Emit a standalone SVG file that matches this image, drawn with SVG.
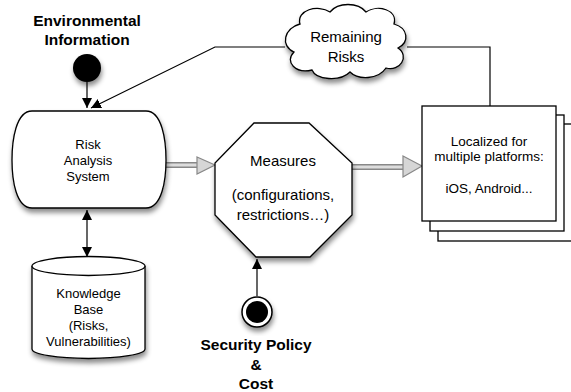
<svg xmlns="http://www.w3.org/2000/svg" width="571" height="392" viewBox="0 0 571 392">
<defs>
<filter id="sh" x="-20%" y="-20%" width="150%" height="150%">
<feDropShadow dx="1" dy="4" stdDeviation="2.5" flood-color="#000" flood-opacity="0.45"/>
</filter>
<marker id="ah" viewBox="0 0 10 10" refX="10" refY="5" markerWidth="10" markerHeight="10" markerUnits="userSpaceOnUse" orient="auto-start-reverse">
<path d="M0,0 L10,5 L0,10 Z" fill="#000"/>
</marker>
</defs>
<style>
.n{fill:#fff;stroke:#000;stroke-width:1.3}
.t{font-family:"Liberation Sans",Arial,sans-serif;font-size:13px;fill:#000;text-anchor:middle}
.b{font-family:"Liberation Sans",Arial,sans-serif;font-size:15.5px;font-weight:bold;fill:#000;text-anchor:middle}
.c{fill:none;stroke:#000;stroke-width:1.2}
.sh{fill:none;stroke:#888;stroke-width:6}
.si{fill:none;stroke:#ddd;stroke-width:3}
.hd{fill:#d6d6d6;stroke:#888;stroke-width:1.2}
</style>
<rect width="571" height="392" fill="#fff"/>
<g id="connectors">
<path class="c" d="M87,82 V108" marker-end="url(#ah)"/>
<path class="c" d="M285,47 H215 L91,108" marker-end="url(#ah)"/>
<path class="c" d="M490,106 V47 H407"/>
<path class="c" d="M87,210 V257" marker-start="url(#ah)" marker-end="url(#ah)"/>
<path class="c" d="M257,296 V259" marker-end="url(#ah)"/>
<path class="sh" d="M166,165 H198"/>
<path class="si" d="M166,165 H199"/>
<path class="hd" d="M197,157 L215,165 L197,174 Z"/>
<path class="sh" d="M352,167 H404"/>
<path class="si" d="M352,167 H405"/>
<path class="hd" d="M403,156 L422,166 L403,177 Z"/>
</g>
<g id="env">
<text class="b" x="87" y="26">Environmental</text>
<text class="b" x="87" y="45">Information</text>
<circle cx="87" cy="68" r="14" fill="#000" filter="url(#sh)"/>
</g>
<g id="cloud">
<path class="n" filter="url(#sh)" d="M300,24 C296,10 318,4 330,12 C338,2 358,2 366,12 C378,4 398,10 394,24 C408,28 410,42 398,48 C410,56 400,72 386,68 C378,80 358,80 350,72 C340,82 316,80 312,70 C296,74 284,62 294,52 C280,46 284,28 300,24 Z"/>
<text class="t" style="font-size:15px" x="346" y="42">Remaining</text>
<text class="t" style="font-size:15px" x="346" y="62">Risks</text>
</g>
<g id="ras">
<path class="n" filter="url(#sh)" d="M32,111 L146,111 C162,111 166,140 166,160 C166,180 162,208 146,208 L32,208 C16,208 12,180 12,160 C12,140 16,111 32,111 Z"/>
<text class="t" x="88" y="149">Risk</text>
<text class="t" x="88" y="165">Analysis</text>
<text class="t" x="88" y="181">System</text>
</g>
<g id="kb">
<path class="n" filter="url(#sh)" d="M32,266 V349 A56.5,9.5 0 0 0 145,349 V266 A56.5,9.5 0 0 0 32,266 Z"/>
<path class="n" d="M32,266 A56.5,9.5 0 0 0 145,266"/>
<text class="t" x="88.5" y="298">Knowledge</text>
<text class="t" x="88.5" y="314">Base</text>
<text class="t" x="88.5" y="330">(Risks,</text>
<text class="t" x="88.5" y="346">Vulnerabilities)</text>
</g>
<g id="measures">
<path class="n" filter="url(#sh)" d="M254,123 H309 L352,163 V215 L310,257 H256 L215,215 V163 Z"/>
<text class="t" style="font-size:15px" x="283" y="166">Measures</text>
<text class="t" style="font-size:15px" x="283" y="200">(configurations,</text>
<text class="t" style="font-size:15px" x="283" y="220">restrictions…)</text>
</g>
<g id="localized">
<rect class="n" x="438" y="124" width="140" height="117"/>
<rect class="n" x="430" y="115" width="134" height="116"/>
<rect class="n" x="422" y="106" width="134" height="115"/>
<text class="t" style="font-size:13.5px" x="489" y="146">Localized for</text>
<text class="t" style="font-size:13.5px" x="489" y="161">multiple platforms:</text>
<text class="t" style="font-size:13.5px" x="489" y="193">iOS, Android...</text>
</g>
<g id="security">
<circle cx="257" cy="312" r="15" fill="#fff" stroke="#000" stroke-width="1.5" filter="url(#sh)"/>
<circle cx="257" cy="312" r="11" fill="#000"/>
<text class="b" x="256" y="350">Security Policy</text>
<text class="b" x="256" y="370">&amp;</text>
<text class="b" x="256" y="389">Cost</text>
</g>
</svg>
